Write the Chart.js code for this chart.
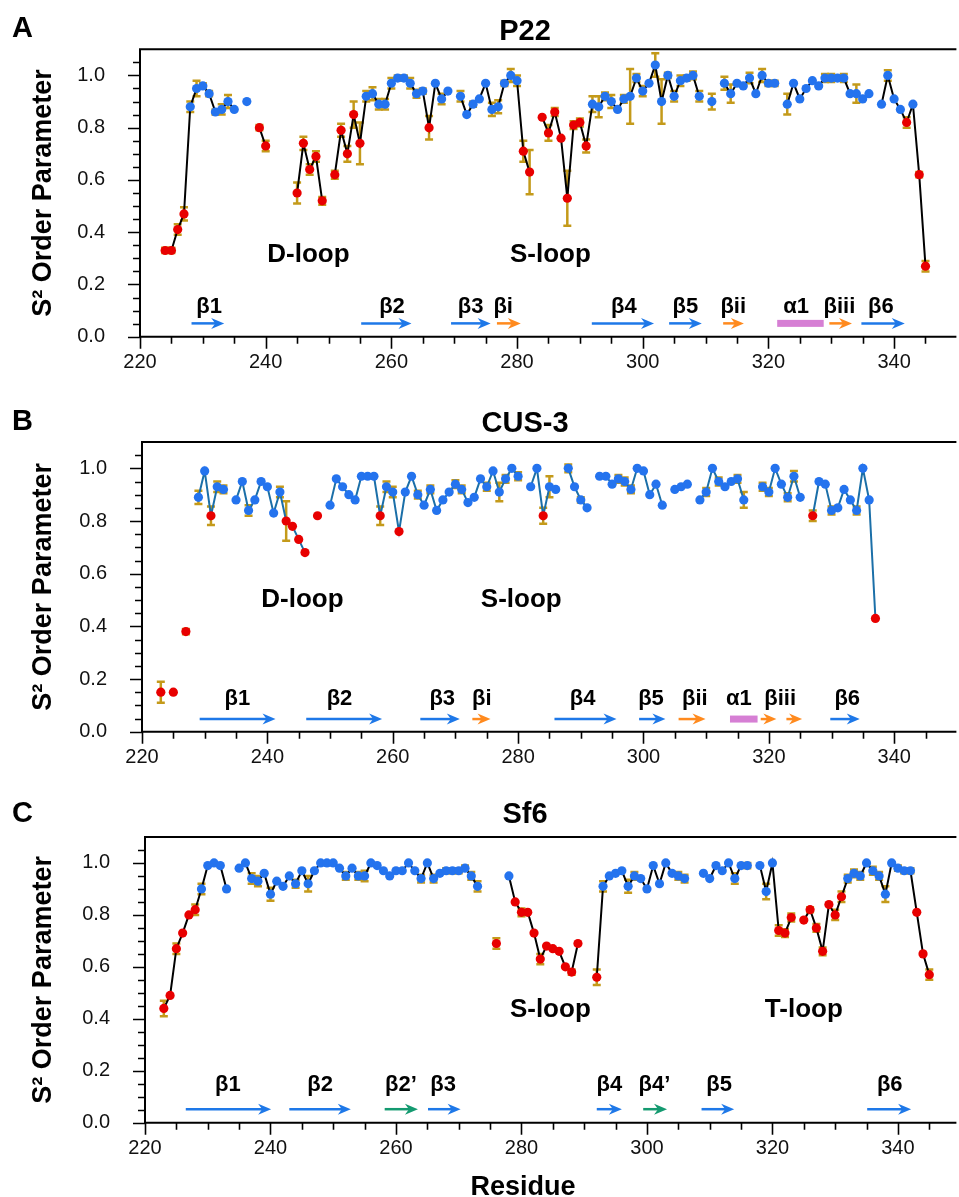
<!DOCTYPE html>
<html><head><meta charset="utf-8">
<script src="https://cdn.jsdelivr.net/npm/chart.js@4.4.1/dist/chart.umd.min.js"></script>
<style>
html,body{margin:0;padding:0;background:#fff;overflow:hidden;}
#wrap{position:relative;width:959px;height:1197px;background:#fff;}
canvas{position:absolute;left:0;}
</style></head><body>
<div id="wrap">
<canvas id="cA" width="959" height="395" style="top:0px"></canvas>
<canvas id="cB" width="959" height="395" style="top:395px"></canvas>
<canvas id="cC" width="959" height="407" style="top:790px"></canvas>
</div>
<script>
// ---------------- DATA ----------------
// P22
const p22Residues = [224,225,226,227,228,229,230,231,232,233,234,235,237,239,240,245,246,247,248,249,
 251,252,253,254,255,256,257,258,259,260,261,262,263,264,265,266,267,268,269,
 271,272,273,274,275,276,277,278,279,280,281,282,
 284,285,286,287,288,289,290,291,292,293,294,295,296,297,298,299,300,301,302,303,304,305,306,307,308,309,
 311,313,314,315,316,317,318,319,320,321,
 323,324,325,326,327,328,329,330,331,332,333,334,335,336,
 338,339,340,341,342,343,344,345];
const p22S2 = [0.33,0.33,0.41,0.47,0.88,0.95,0.96,0.93,0.86,0.87,0.90,0.87,0.90,0.80,0.73,0.55,0.74,0.64,0.69,0.52,
 0.62,0.79,0.70,0.85,0.74,0.92,0.93,0.89,0.89,0.97,0.99,0.99,0.97,0.93,0.94,0.80,0.97,0.91,0.94,
 0.92,0.85,0.89,0.91,0.97,0.87,0.88,0.97,1.00,0.98,0.71,0.63,
 0.84,0.78,0.86,0.76,0.53,0.81,0.82,0.73,0.89,0.88,0.92,0.90,0.87,0.91,0.92,0.99,0.94,0.97,1.04,0.90,1.00,0.92,0.98,0.99,1.00,0.92,
 0.90,0.97,0.93,0.97,0.96,0.99,0.93,1.00,0.97,0.97,
 0.89,0.97,0.91,0.95,0.98,0.96,0.99,0.99,0.99,0.99,0.93,0.93,0.91,0.93,
 0.89,1.00,0.91,0.87,0.82,0.89,0.62,0.27];
const p22Err = [0.01,0.01,0.02,0.025,0.02,0.03,0.01,0.01,0.01,0.02,0.025,0,0,0.01,0.02,0.04,0.025,0.02,0.02,0.015,
 0.015,0.025,0.03,0.05,0.08,0.02,0.025,0.02,0.02,0.02,0.01,0.01,0.02,0.015,0.01,0.045,0,0.02,0,
 0.02,0,0.01,0,0,0.025,0.025,0.01,0.025,0.02,0.04,0.085,
 0,0.03,0.015,0,0.105,0.015,0.015,0.025,0.03,0.04,0.015,0.025,0,0.015,0.105,0.015,0.02,0,0.045,0.085,0.01,0.02,0.02,0.01,0.015,0.02,
 0.03,0.025,0.035,0,0,0.02,0,0.025,0.01,0.01,
 0.04,0,0,0,0,0,0.015,0.015,0.01,0.015,0,0.035,0,0,
 0,0.02,0,0,0.02,0,0.01,0.02];
const p22Flexible = [224,225,226,227,239,240,245,246,247,248,249,251,252,253,254,255,266,281,282,284,285,286,287,288,289,290,291,342,344,345];

// CUS-3
const cus3Residues = [223,225,227,229,230,231,232,233,235,236,237,238,239,240,241,242,243,244,245,246,248,
 250,251,252,253,254,255,256,257,258,259,260,261,262,263,264,265,266,267,268,269,270,271,272,273,274,275,276,277,278,279,280,
 282,283,284,285,286,288,289,290,291,
 293,294,295,296,297,298,299,300,301,302,303,305,306,307,
 309,310,311,312,313,314,315,316,319,320,321,322,323,324,325,
 327,328,329,330,331,332,333,334,335,336,337];
const cus3S2 = [0.15,0.15,0.38,0.89,0.99,0.82,0.93,0.92,0.88,0.95,0.84,0.88,0.95,0.93,0.83,0.91,0.80,0.78,0.73,0.68,0.82,
 0.86,0.96,0.93,0.90,0.88,0.97,0.97,0.97,0.82,0.93,0.91,0.76,0.91,0.97,0.90,0.86,0.92,0.84,0.88,0.91,0.94,0.92,0.87,0.89,0.96,0.93,0.99,0.91,0.96,1.00,0.97,
 0.93,1.00,0.82,0.93,0.92,1.00,0.93,0.88,0.85,
 0.97,0.97,0.94,0.96,0.95,0.92,1.00,0.99,0.90,0.94,0.86,0.92,0.93,0.94,
 0.88,0.91,1.00,0.95,0.93,0.95,0.96,0.88,0.93,0.91,1.00,0.94,0.89,0.97,0.89,
 0.82,0.95,0.94,0.84,0.85,0.92,0.88,0.84,1.00,0.88,0.43];
const cus3Err = [0.04,0,0.01,0.025,0,0.035,0.02,0.015,0,0,0.02,0,0,0,0,0.02,0.075,0,0,0,0,
 0,0,0,0,0,0,0,0,0.035,0.02,0.02,0,0,0,0.015,0,0.015,0,0,0,0.015,0.015,0,0,0,0.015,0,0.035,0.015,0,0.015,
 0,0,0.03,0.04,0,0.015,0,0.01,0,
 0,0,0,0.015,0.015,0.015,0,0,0,0,0,0,0,0,
 0,0.015,0,0.015,0,0,0.015,0.03,0.015,0.015,0,0,0.015,0.02,0,
 0.02,0,0,0.015,0,0,0,0.015,0,0,0];
const cus3Flexible = [223,225,227,231,243,244,245,246,248,258,261,284,327,337];

// Sf6
const sf6Residues = [223,224,225,226,227,228,229,230,231,232,233,
 235,236,237,238,239,240,241,242,243,244,245,246,247,248,249,250,251,252,253,254,255,256,257,258,259,260,261,262,263,264,265,266,267,268,269,270,271,272,273,
 276,278,279,280,281,282,283,284,285,286,287,288,289,
 292,293,294,295,296,297,298,299,300,301,302,303,304,305,306,
 309,310,311,312,313,314,315,316,318,319,320,321,322,323,
 325,326,327,328,329,330,331,332,333,334,335,336,337,338,339,340,341,342,343,344,345];
const sf6S2 = [0.44,0.49,0.67,0.73,0.80,0.82,0.90,0.99,1.00,0.99,0.90,
 0.98,1.00,0.94,0.93,0.96,0.88,0.93,0.91,0.95,0.92,0.97,0.92,0.97,1.00,1.00,1.00,0.98,0.95,0.98,0.95,0.95,1.00,0.99,0.97,0.95,0.97,0.97,1.00,0.97,0.94,1.00,0.94,0.96,0.97,0.97,0.97,0.98,0.95,0.91,
 0.69,0.95,0.85,0.81,0.81,0.73,0.63,0.68,0.67,0.66,0.60,0.58,0.69,
 0.56,0.91,0.95,0.96,0.97,0.91,0.95,0.94,0.90,0.99,0.92,1.00,0.96,0.95,0.94,
 0.96,0.94,0.99,0.97,1.00,0.94,0.99,0.99,0.99,0.89,1.00,0.74,0.73,0.79,
 0.78,0.82,0.75,0.66,0.84,0.80,0.87,0.94,0.96,0.95,1.00,0.97,0.95,0.88,1.00,0.98,0.97,0.97,0.81,0.65,0.57];
const sf6Err = [0.03,0,0.02,0,0,0.02,0.02,0,0,0,0,
 0,0,0.02,0.02,0,0.025,0,0,0,0.015,0,0.03,0,0,0,0,0,0.015,0,0.015,0.02,0,0,0,0,0,0,0,0,0.015,0,0.015,0,0.01,0.01,0.01,0.01,0.015,0.02,
 0.02,0,0,0.015,0,0,0.02,0,0,0,0,0.01,0,
 0.03,0.02,0,0,0,0.025,0.015,0,0,0,0,0,0,0.015,0.015,
 0,0,0,0,0,0.02,0,0.01,0,0.03,0,0.02,0.015,0.015,
 0,0.01,0.015,0.015,0,0.02,0.02,0.015,0.015,0.015,0,0.015,0.015,0.03,0,0.01,0.01,0.01,0,0,0.02];
const sf6Flexible = [223,224,225,226,227,228,276,279,280,281,282,283,284,285,286,287,288,289,292,321,322,323,325,326,327,328,329,330,331,343,344,345];

// Secondary structure: [label, startResidue, endResidue, kind]
const p22Elements = [['β1',228.2,233.4,'strand'],['β2',255.2,263.2,'strand'],['β3',269.5,275.8,'strand'],['βi',276.8,280.6,'extra'],
 ['β4',291.9,301.8,'strand'],['β5',304.2,309.4,'strand'],['βii',312.8,316.1,'extra'],['α1',321.4,328.8,'helix'],
 ['βiii',329.7,333.3,'extra'],['β6',334.8,341.7,'strand']];
const p22Labels = [['β1',231],['β2',260.1],['β3',272.6],['βi',277.8],['β4',297],['β5',306.8],['βii',314.4],['α1',324.4],['βiii',331.3],['β6',337.9]];
const cus3Elements = [['β1',229.2,241.3,'strand'],['β2',246.2,258.3,'strand'],['β3',264.4,270.7,'strand'],['βi',272.7,275.6,'extra'],
 ['β4',285.8,295.7,'strand'],['β5',299.3,303.5,'strand'],['βii',305.6,309.9,'extra'],['α1',313.8,318.2,'helix'],
 ['βiii',318.7,321.2,'extra'],['βiii',322.8,325.3,'extra'],['β6',329.8,334.5,'strand']];
const cus3Labels = [['β1',235.2],['β2',251.5],['β3',267.9],['βi',274.2],['β4',290.3],['β5',301.2],['βii',308.2],['α1',315.2],['βiii',321.8],['β6',332.5]];
const sf6Elements = [['β1',226.5,240.1,'strand'],['β2',243,252.8,'strand'],['β2’',258.2,263.5,'prime'],['β3',265.1,270.3,'strand'],
 ['β4',292,296,'strand'],['β4’',299.4,303.2,'prime'],['β5',308.7,313.9,'strand'],['β6',335.1,342.1,'strand']];
const sf6Labels = [['β1',233.2],['β2',247.9],['β2’',260.8],['β3',267.5],['β4',294],['β4’',301.2],['β5',311.5],['β6',338.7]];

// Region labels: [text, residue]
const p22Regions = [['D-loop',246.8],['S-loop',285.3]];
const cus3Regions = [['D-loop',245.6],['S-loop',280.5]];
const sf6Regions = [['S-loop',284.6],['T-loop',325]];

const xTickLabels = [220,240,260,280,300,320,340];

// ---------------- STYLE ----------------
const FONT = "'Liberation Sans', Arial, Helvetica, sans-serif";
Chart.defaults.font.family = FONT;
Chart.defaults.color = '#111';
const BLUE = '#2473EE', RED = '#E80000', ERR = '#C49A1A';
const SS_COLORS = {strand:'#1E78E8', extra:'#FF8A1E', prime:'#149A70', helix:'#D67FD4'};

function buildSeries(res, s2, err, flex) {
  const redSet = new Set(flex);
  const line = [], blue = [], blueErr = [], red = [], redErr = [];
  res.forEach((r, i) => {
    if (i > 0 && r !== res[i-1] + 1) line.push({x: (r + res[i-1]) / 2, y: null});
    line.push({x: r, y: s2[i]});
    if (redSet.has(r)) { red.push({x: r, y: s2[i]}); redErr.push(err[i]); }
    else { blue.push({x: r, y: s2[i]}); blueErr.push(err[i]); }
  });
  return {line, blue, blueErr, red, redErr};
}

const errorBarPlugin = {
  id: 'errorBars',
  beforeDatasetsDraw(chart) {
    const {ctx, scales: {x, y}} = chart;
    ctx.save();
    ctx.strokeStyle = ERR; ctx.lineWidth = 2.5;
    chart.data.datasets.forEach(ds => {
      if (!ds.errorBars) return;
      ds.data.forEach((p, i) => {
        const e = ds.errorBars[i]; if (!e) return;
        const px = x.getPixelForValue(p.x);
        const y1 = y.getPixelForValue(p.y + e), y2 = y.getPixelForValue(p.y - e);
        ctx.beginPath();
        ctx.moveTo(px, y1); ctx.lineTo(px, y2);
        ctx.moveTo(px - 4, y1); ctx.lineTo(px + 4, y1);
        ctx.moveTo(px - 4, y2); ctx.lineTo(px + 4, y2);
        ctx.stroke();
      });
    });
    ctx.restore();
  }
};

const framePlugin = {
  id: 'frame',
  afterDraw(chart, args, o) {
    const {ctx, chartArea: {left, right, top, bottom}, scales: {x, y}} = chart;
    ctx.save();
    ctx.strokeStyle = '#000';
    ctx.lineWidth = 2;
    ctx.beginPath();
    ctx.moveTo(left, top); ctx.lineTo(right + 2, top);
    ctx.moveTo(left, top - 1); ctx.lineTo(left, bottom + 1);
    ctx.moveTo(left - 1, bottom); ctx.lineTo(right + 2, bottom);
    ctx.stroke();
    ctx.lineWidth = 1.6;
    ctx.beginPath();
    for (let r = 220; r <= x.max; r += 5) {
      const px = Math.round(x.getPixelForValue(r)) + 0.5;
      const len = (r % 20 === 0) ? 12 : 7;
      ctx.moveTo(px, bottom); ctx.lineTo(px, bottom + len);
    }
    for (let k = 0; k <= 21; k++) {
      const py = Math.round(y.getPixelForValue(k * 0.05)) + 0.5;
      const len = (k % 4 === 0) ? 12 : 7;
      ctx.moveTo(left, py); ctx.lineTo(left - len, py);
    }
    ctx.stroke();
    // panel letter and title
    ctx.fillStyle = '#000';
    ctx.textBaseline = 'alphabetic';
    ctx.font = 'bold 29px ' + FONT;
    ctx.textAlign = 'left';
    ctx.fillText(o.letter, 12, o.letterY);
    ctx.textAlign = 'center';
    ctx.fillText(o.title, 525, o.titleY);
    if (o.xTitle) {
      ctx.font = 'bold 27px ' + FONT;
      ctx.fillText(o.xTitle, 523, o.xTitleY);
    }
    ctx.restore();
  }
};

const annotPlugin = {
  id: 'annot',
  afterDatasetsDraw(chart, args, o) {
    const {ctx, scales: {x, y}} = chart;
    ctx.save();
    const ay = y.getPixelForValue(o.arrowY);
    o.elements.forEach(([lab, s, e, kind]) => {
      const xs = x.getPixelForValue(s), xe = x.getPixelForValue(e);
      const c = SS_COLORS[kind];
      ctx.fillStyle = c; ctx.strokeStyle = c;
      if (kind === 'helix') {
        ctx.fillRect(xs, ay - 3.5, xe - xs, 7);
      } else {
        ctx.lineWidth = 2.5;
        ctx.beginPath(); ctx.moveTo(xs, ay); ctx.lineTo(xe - 8, ay); ctx.stroke();
        ctx.beginPath();
        ctx.moveTo(xe, ay); ctx.lineTo(xe - 13, ay - 5.5); ctx.lineTo(xe - 9, ay); ctx.lineTo(xe - 13, ay + 5.5);
        ctx.closePath(); ctx.fill();
      }
    });
    ctx.fillStyle = '#000';
    ctx.textAlign = 'center';
    ctx.textBaseline = 'alphabetic';
    ctx.font = 'bold 22px ' + FONT;
    const ly = y.getPixelForValue(o.labelY);
    o.labels.forEach(([lab, r]) => ctx.fillText(lab, x.getPixelForValue(r), ly));
    ctx.font = 'bold 26px ' + FONT;
    const ry = y.getPixelForValue(o.regionY);
    o.regions.forEach(([lab, r]) => ctx.fillText(lab, x.getPixelForValue(r), ry));
    ctx.restore();
  }
};

function makeChart(id, cfg) {
  const s = buildSeries(cfg.res, cfg.s2, cfg.err, cfg.flex);
  const canvas = document.getElementById(id);
  const H = canvas.height;
  return new Chart(canvas, {
    type: 'line',
    data: {
      datasets: [
        {data: s.line, borderColor: cfg.lineColor, borderWidth: 2, pointRadius: 0, spanGaps: false, fill: false, order: 3},
        {data: s.blue, errorBars: s.blueErr, showLine: false, pointRadius: 4.6, pointBackgroundColor: BLUE, pointBorderWidth: 0, order: 2},
        {data: s.red, errorBars: s.redErr, showLine: false, pointRadius: 4.6, pointBackgroundColor: RED, pointBorderWidth: 0, order: 1}
      ]
    },
    options: {
      responsive: false, animation: false, devicePixelRatio: 1,
      layout: {padding: {top: cfg.plotTop, left: 0, right: 0, bottom: 0}},
      plugins: {
        legend: {display: false}, tooltip: {enabled: false},
        frame: {letter: cfg.letter, letterY: cfg.letterY, title: cfg.title, titleY: cfg.titleY, xTitle: cfg.xTitle, xTitleY: cfg.xTitleY},
        annot: {elements: cfg.elements, labels: cfg.labels, regions: cfg.regions, arrowY: cfg.arrowY, labelY: cfg.labelY, regionY: cfg.regionY}
      },
      scales: {
        x: {
          type: 'linear', min: 220, max: cfg.xMax,
          afterBuildTicks: sc => { sc.ticks = xTickLabels.map(v => ({value: v})); },
          ticks: {autoSkip: false, includeBounds: false, maxRotation: 0, padding: 14, font: {size: 20}, color: '#111', callback: v => String(v)},
          grid: {display: false, drawTicks: false}, border: {display: false},
          afterFit: sc => { sc.height = H - cfg.plotBottom; }
        },
        y: {
          min: 0, max: 1.1,
          ticks: {stepSize: 0.2, includeBounds: false, padding: 35, font: {size: 20}, color: '#111', callback: v => Number(v).toFixed(1)},
          grid: {display: false, drawTicks: false}, border: {display: false},
          title: {display: true, text: 'S² Order Parameter', font: {size: 27, weight: 'bold'}, color: '#000', padding: {top: 27, bottom: 0}},
          afterFit: sc => { sc.width = cfg.left; }
        }
      }
    },
    plugins: [errorBarPlugin, framePlugin, annotPlugin]
  });
}

makeChart('cA', {res: p22Residues, s2: p22S2, err: p22Err, flex: p22Flexible, lineColor: '#000',
  left: 140, xMax: 349.6, plotTop: 49.3, plotBottom: 336.7, letter: 'A', letterY: 37, title: 'P22', titleY: 40,
  elements: p22Elements, labels: p22Labels, regions: p22Regions, arrowY: 0.051, labelY: 0.089, regionY: 0.287});
makeChart('cB', {res: cus3Residues, s2: cus3S2, err: cus3Err, flex: cus3Flexible, lineColor: '#1b6fa8',
  left: 142, xMax: 349.6, plotTop: 46.7, plotBottom: 336.7, letter: 'B', letterY: 35, title: 'CUS-3', titleY: 36.7,
  elements: cus3Elements, labels: cus3Labels, regions: cus3Regions, arrowY: 0.048, labelY: 0.101, regionY: 0.472});
makeChart('cC', {res: sf6Residues, s2: sf6S2, err: sf6Err, flex: sf6Flexible, lineColor: '#000',
  left: 145, xMax: 349.0, plotTop: 46.7, plotBottom: 332.7, letter: 'C', letterY: 31.7, title: 'Sf6', titleY: 32.7,
  xTitle: 'Residue', xTitleY: 405,
  elements: sf6Elements, labels: sf6Labels, regions: sf6Regions, arrowY: 0.052, labelY: 0.122, regionY: 0.408});
</script>
</body></html>
